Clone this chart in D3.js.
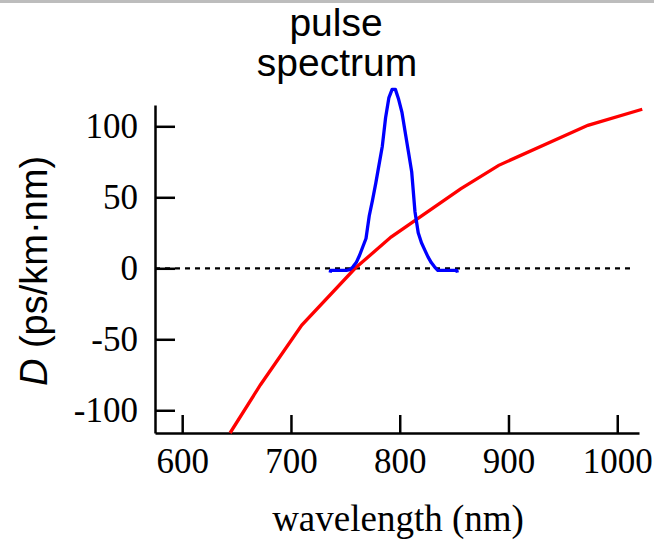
<!DOCTYPE html>
<html>
<head>
<meta charset="utf-8">
<script src="https://cdn.jsdelivr.net/npm/d3@7"></script>
<style>
  body { margin: 0; background: #fff; }
  svg { display: block; }
</style>
</head>
<body>
<div id="chart"></div>
<script>
// dispersion curve, D (ps/km.nm) against wavelength (nm)
const dispWavelength = [644, 672, 710, 759, 792, 856, 891, 973, 1023];
const dispValue = [-116, -82, -40, 0, 22, 56, 72.5, 100.7, 112];

// pulse spectrum, drawn in the same units as D
const pulseWavelength = [736, 736.5, 739, 742, 745, 748, 751, 754, 757, 760, 763, 766, 769, 772, 775,
  778, 781, 784, 787, 790, 793, 796, 799, 802, 805, 808, 811, 814, 817, 820, 823, 826, 829,
  832, 835, 838, 841, 844, 847, 850, 852.5, 853];
const pulseValue = [-3, -1.5, -1.5, -1.5, -1.5, -1.5, -1.5, -1, 1, 4, 9, 15, 21, 37, 48,
  60, 73, 86, 106, 120, 126, 126, 119, 110, 96, 82, 68, 40, 25, 18, 13, 8, 4,
  1, -1.5, -1.5, -1.5, -1.5, -1.5, -1.5, -1.5, -3];

const xTicks = [600, 700, 800, 900, 1000];
const yTicks = [-100, -50, 0, 50, 100];

const width = 654;
const height = 543;

const svg = d3.select("#chart").append("svg")
  .attr("width", width)
  .attr("height", height);

// grey strip along the top edge
svg.append("rect")
  .attr("x", 0).attr("y", 0)
  .attr("width", width).attr("height", 3)
  .attr("fill", "#bdbdbd");

const x = d3.scaleLinear().domain([575, 1020]).range([155, 639]);
const y = d3.scaleLinear().domain([-116, 115]).range([433, 105]);

const serif = "'Liberation Serif', 'Times New Roman', serif";
const sans = "'Liberation Sans', Arial, sans-serif";
const plain = d => String(d);

// y axis, ticks point inward
const yAxis = svg.append("g")
  .attr("transform", `translate(${x.range()[0]},0)`)
  .call(d3.axisLeft(y).tickValues(yTicks).tickFormat(plain)
    .tickSizeInner(-20).tickSizeOuter(0).tickPadding(17));

// x axis
const xAxis = svg.append("g")
  .attr("transform", `translate(0,${y.range()[0]})`)
  .call(d3.axisBottom(x).tickValues(xTicks).tickFormat(plain)
    .tickSizeInner(-18).tickSizeOuter(0).tickPadding(15));

[yAxis, xAxis].forEach(a => {
  a.select(".domain").attr("stroke", "#000").attr("stroke-width", 2.5);
  a.selectAll(".tick line").attr("stroke", "#000").attr("stroke-width", 2.5);
  a.selectAll(".tick text")
    .attr("fill", "#000")
    .attr("font-family", serif)
    .attr("font-size", 35);
});

// zero line
svg.append("line")
  .attr("x1", x.range()[0]).attr("x2", 635)
  .attr("y1", y(0)).attr("y2", y(0))
  .attr("stroke", "#000")
  .attr("stroke-width", 2.2)
  .attr("stroke-dasharray", "5,5");

// dispersion curve
const dispLine = d3.line()
  .x((d, i) => x(dispWavelength[i]))
  .y(d => y(d));

svg.append("path")
  .datum(dispValue)
  .attr("fill", "none")
  .attr("stroke", "#ff0000")
  .attr("stroke-width", 3.3)
  .attr("d", dispLine);

// pulse spectrum
const pulseLine = d3.line()
  .x((d, i) => x(pulseWavelength[i]))
  .y(d => y(d));

svg.append("path")
  .datum(pulseValue)
  .attr("fill", "none")
  .attr("stroke", "#0000ff")
  .attr("stroke-width", 3.3)
  .attr("stroke-linejoin", "round")
  .attr("d", pulseLine);

// labels
svg.append("text")
  .attr("x", 398).attr("y", 531)
  .attr("text-anchor", "middle")
  .attr("font-family", serif)
  .attr("font-size", 37)
  .text("wavelength (nm)");

const yLabel = svg.append("text")
  .attr("transform", "translate(47,271) rotate(-90)")
  .attr("text-anchor", "middle")
  .attr("font-family", sans)
  .attr("font-size", 38);
yLabel.append("tspan").attr("font-style", "italic").text("D");
yLabel.append("tspan").text(" (ps/km\u00b7nm)");

const title = svg.append("text")
  .attr("text-anchor", "middle")
  .attr("font-family", sans)
  .attr("font-size", 39);
title.append("tspan").attr("x", 336).attr("y", 36).text("pulse");
title.append("tspan").attr("x", 337).attr("y", 76).text("spectrum");
</script>
</body>
</html>
